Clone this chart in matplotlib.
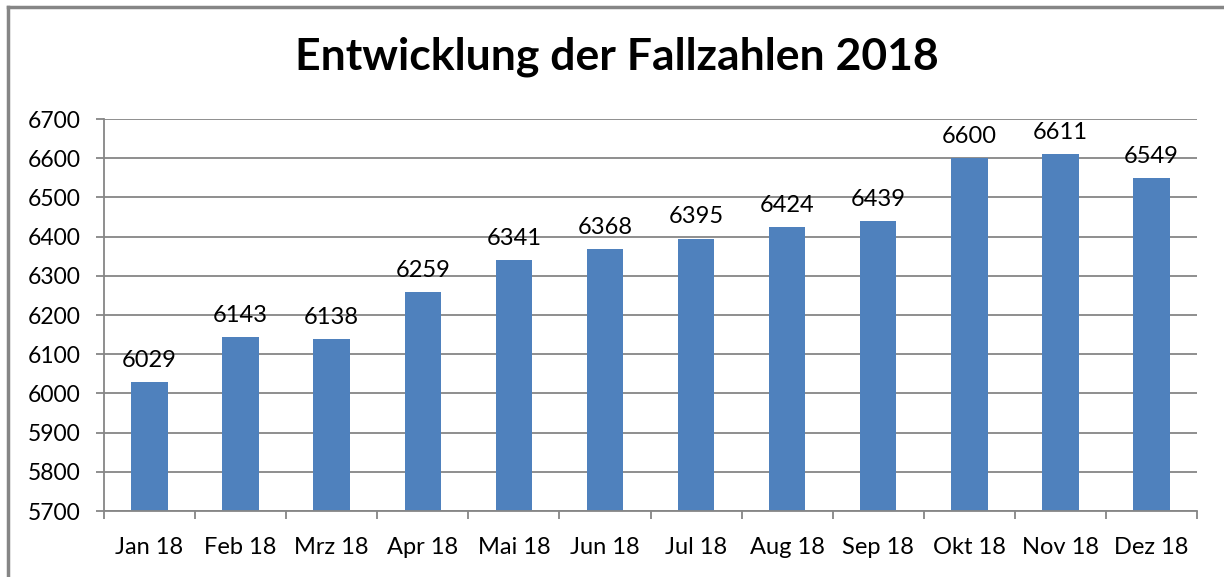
import matplotlib.pyplot as plt
import numpy as np

plt.rcParams['font.family'] = ['Lato', 'DejaVu Sans']

monate = ["Jan 18", "Feb 18", "Mrz 18", "Apr 18", "Mai 18", "Jun 18",
          "Jul 18", "Aug 18", "Sep 18", "Okt 18", "Nov 18", "Dez 18"]
fallzahlen = [6029, 6143, 6138, 6259, 6341, 6368, 6395, 6424, 6439, 6600, 6611, 6549]
y_ticks = [5700, 5800, 5900, 6000, 6100, 6200, 6300, 6400, 6500, 6600, 6700]

fig = plt.figure(figsize=(12.24, 5.77), dpi=100)
ax = fig.add_axes([104 / 1224, 1 - 511 / 577, (1197 - 104) / 1224, (511 - 119) / 577])

x = np.arange(len(monate))
bars = ax.bar(x, fallzahlen, width=0.4, color="#4F81BD", zorder=2)

# data labels
for xi, v in zip(x, fallzahlen):
    ax.annotate(str(v), (xi, v), xytext=(0, 8), textcoords="offset points",
                ha="center", va="bottom", fontsize=17, color="black")

ax.set_ylim(5700, 6700)
ax.set_xlim(-0.5, len(monate) - 0.5)
ax.set_yticks(y_ticks)
ax.set_yticklabels([str(t) for t in y_ticks], fontsize=16.5)
ax.yaxis.grid(True, color="#868686", linewidth=1.3, zorder=0)
ax.set_axisbelow(True)
ax.tick_params(axis="y", length=6, width=1.3, color="#868686", pad=11)

# category labels centered, ticks at boundaries
ax.set_xticks(np.arange(len(monate) + 1) - 0.5)
ax.set_xticklabels([])
ax.set_xticks(x, minor=True)
ax.set_xticklabels(monate, minor=True, fontsize=17)
ax.tick_params(axis="x", which="major", length=6, width=1.3, color="#868686")
ax.tick_params(axis="x", which="minor", length=0, pad=19)

for s in ["top", "right"]:
    ax.spines[s].set_visible(False)
for s in ["left", "bottom"]:
    ax.spines[s].set_color("#868686")
    ax.spines[s].set_linewidth(1.3)

fig.text(0.504, 1 - 57 / 577, "Entwicklung der Fallzahlen 2018", ha="center", va="center",
         fontsize=32, fontweight="bold")

# outer chart border (only top and left visible)
fig.add_artist(plt.Line2D([8 / 1224, 1], [1 - 7 / 577, 1 - 7 / 577], color="#868686", lw=2.5))
fig.add_artist(plt.Line2D([8 / 1224, 8 / 1224], [1 - 7 / 577, 0], color="#868686", lw=2.5))

fig.savefig("out.png", dpi=100)
